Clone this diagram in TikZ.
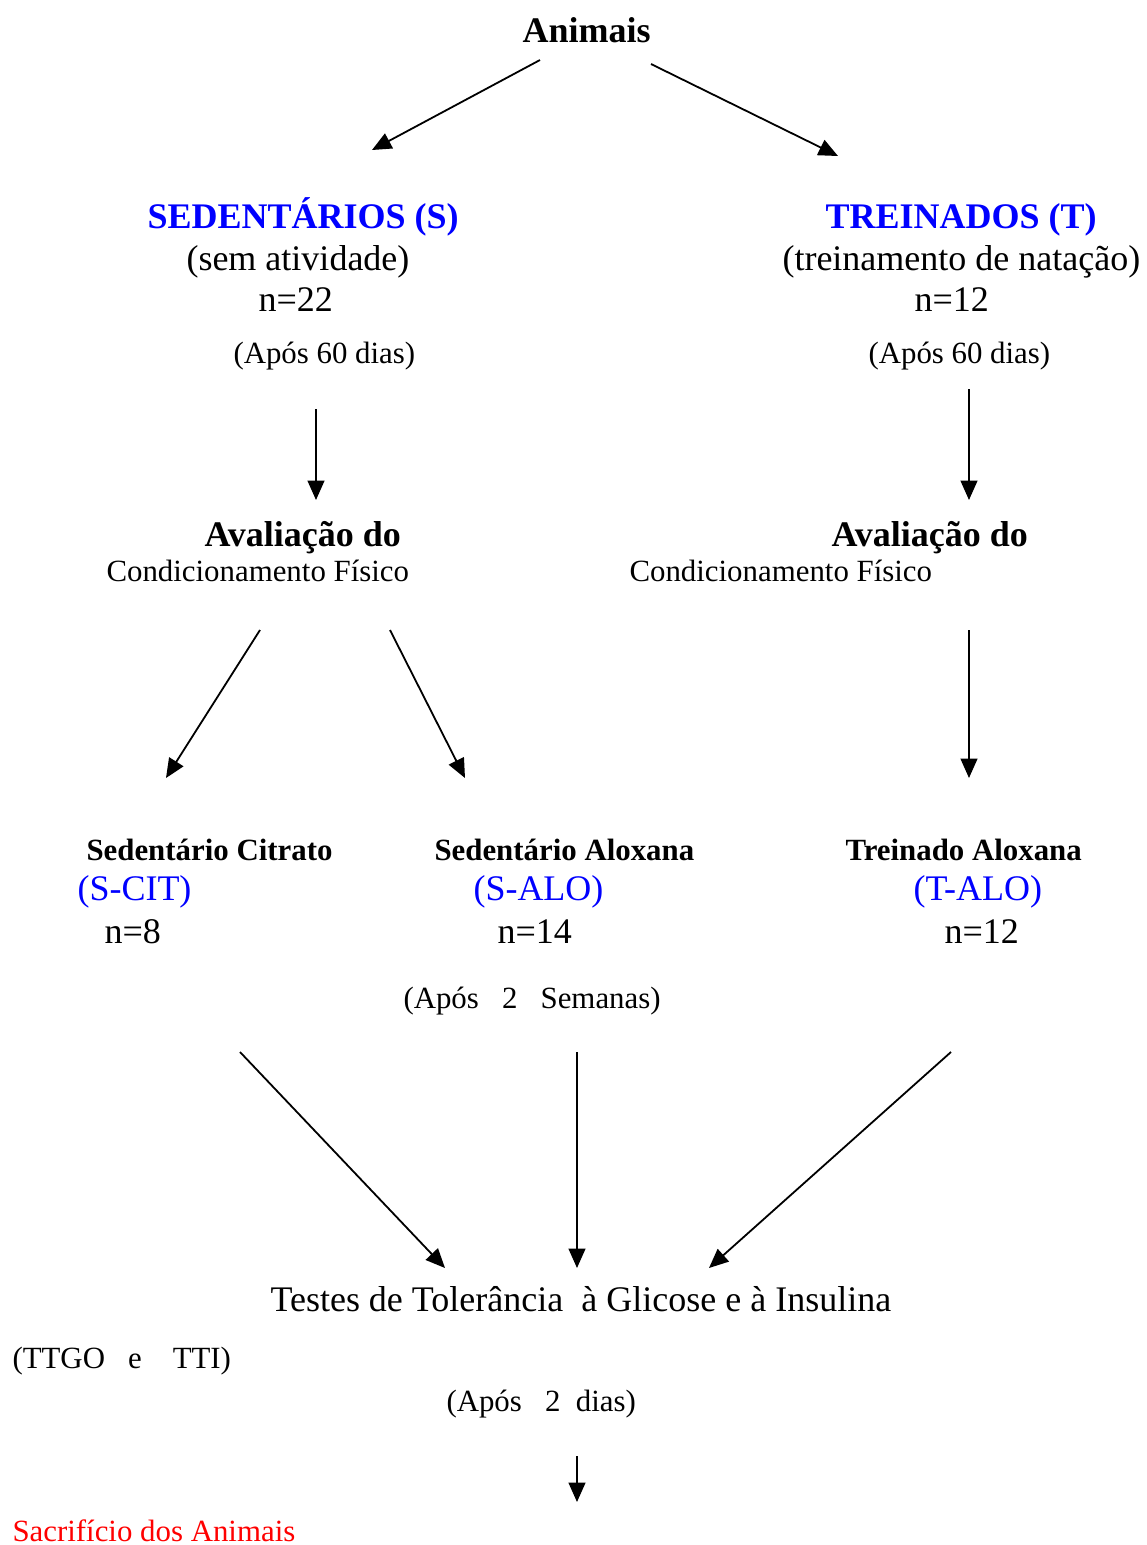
\documentclass[tikz,border=0pt]{standalone}
\usepackage{fontspec}
\setmainfont{Liberation Serif}
\usetikzlibrary{arrows.meta}

\begin{document}
\begin{tikzpicture}[x=0.3889pt,y=-0.3889pt,
	txt/.style={anchor=base west,inner sep=0pt},
	big/.style={txt,font=\fontsize{14}{16}\selectfont},
	bigb/.style={txt,font=\fontsize{14}{16}\selectfont\bfseries},
	small/.style={txt,font=\fontsize{12}{14}\selectfont},
	smallb/.style={txt,font=\fontsize{12}{14}\selectfont\bfseries},
	arr/.style={line width=.7pt,-{Triangle[length=7.5pt,width=6.5pt]}}]
			\useasboundingbox (0,0) rectangle (1147,1545);
			\node[bigb] (animais) at (522,42) {Animais};
			% grupos
			\node[bigb,blue] (sed) at (147,228) {SEDENTÁRIOS (S)};
			\node[big] (sedatv) at (186,270) {(sem atividade)};
			\node[big] (sedn) at (258,311) {n=22};
			\node[small] (sedapos) at (233,363) {(Após 60 dias)};
			\node[bigb,blue] (trein) at (825,228) {TREINADOS (T)};
			\node[big] (treinatv) at (782,270) {(treinamento de natação)};
			\node[big] (treinn) at (914,311) {n=12};
			\node[small] (treinapos) at (868,363) {(Após 60 dias)};
			% avaliacao
			\node[bigb] (avs) at (204,546) {Avaliação do};
			\node[small] (conds) at (106,581) {Condicionamento Físico};
			\node[bigb] (avt) at (831,546) {Avaliação do};
			\node[small] (condt) at (629,581) {Condicionamento Físico};
			% subgrupos
			\node[smallb] (scit) at (86,860) {Sedentário Citrato};
			\node[big,blue] (scitab) at (77,900) {(S-CIT)};
			\node[big] (scitn) at (104,943) {n=8};
			\node[smallb] (salo) at (434,860) {Sedentário Aloxana};
			\node[big,blue] (saloab) at (473,900) {(S-ALO)};
			\node[big] (salon) at (497,943) {n=14};
			\node[smallb] (talo) at (845,860) {Treinado Aloxana};
			\node[big,blue] (taloab) at (913,900) {(T-ALO)};
			\node[big] (talon) at (944,943) {n=12};
			\node[small] (semanas) at (403,1008) {(Após\ \ \ 2\ \ \ Semanas)};
			% testes
			\node[big] (testes) at (270,1311) {Testes de Tolerância\ \ à Glicose e à Insulina};
			\node[small] (ttgo) at (12,1368) {(TTGO\ \ \ e\ \ \ \ TTI)};
			\node[small] (dias) at (446,1411) {(Após\ \ \ 2\ \ dias)};
			\node[small,red] (sacr) at (12,1541) {Sacrifício dos Animais};
			\path
			(540,60) coordinate (a1) (372,150) coordinate (b1)
			(651,64) coordinate (a2) (838,156) coordinate (b2)
			(316,409) coordinate (a3) (316,500) coordinate (b3)
			(969,389) coordinate (a4) (969,500) coordinate (b4)
			(260,630) coordinate (a5) (166,778) coordinate (b5)
			(390,630) coordinate (a6) (465,778) coordinate (b6)
			(969,630) coordinate (a7) (969,778) coordinate (b7)
			(240,1052) coordinate (a8) (445,1268) coordinate (b8)
			(577,1052) coordinate (a9) (577,1268) coordinate (b9)
			(951,1052) coordinate (a10) (709,1268) coordinate (b10)
			(577,1456) coordinate (a11) (577,1502) coordinate (b11)
			;
			\foreach \i in {1,...,11} \draw[arr] (a\i) -- (b\i);
		\end{tikzpicture}
\end{document}
